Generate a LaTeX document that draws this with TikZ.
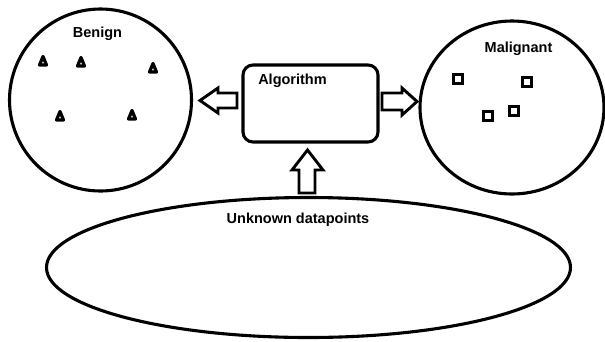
\documentclass[tikz,border=0pt]{standalone}
\usepackage{fontspec}
\setmainfont{Liberation Sans}
\usetikzlibrary{shapes.geometric}
\begin{document}
\begin{tikzpicture}[x=1pt,y=-1pt,
  outline/.style={draw=black,line width=3.1pt},
  label/.style={font=\fontsize{14.5}{17}\selectfont\bfseries,anchor=base,inner sep=0pt},
  blockarrow/.style={draw=black,fill=white,line width=2.9pt,line join=miter},
  tri/.style={draw=black,line width=3.2pt,line join=round},
  sq/.style={draw=black,line width=3.2pt,minimum size=9.5pt,inner sep=0pt}]
  \useasboundingbox (0,0) rectangle (605,341);

  % class regions and the input set
  \node[outline,circle,minimum size=182pt,inner sep=0pt] (benign) at (100.5,100) {};
  \node[outline,ellipse,minimum width=184pt,minimum height=173pt,inner sep=0pt] (malignant) at (512,107.5) {};
  \node[outline,ellipse,minimum width=524pt,minimum height=140pt,inner sep=0pt] (unknown) at (308.5,267.5) {};
  \node[outline,rectangle,rounded corners=10pt,minimum width=135pt,minimum height=77pt,inner sep=0pt] (algo) at (310.5,103.5) {};

  % titles
  \node[label] (tbenign) at (97.5,37) {Benign};
  \node[label] (tmalig) at (518.5,52) {Malignant};
  \node[label] (talgo) at (292.5,84) {Algorithm};
  \node[label] (tunknown) at (298,223) {Unknown datapoints};

  % block arrows between the boxes
  \draw[blockarrow] (237,93) -- (218,93) -- (218,88) -- (200,100.5) -- (218,113) -- (218,108) -- (237,108) -- cycle;
  \draw[blockarrow] (382,93) -- (402,93) -- (402,88) -- (417,101.5) -- (402,115) -- (402,110) -- (382,110) -- cycle;
  \draw[blockarrow] (299,193) -- (299,170) -- (292,170) -- (307.5,150) -- (323,170) -- (315,170) -- (315,193) -- cycle;

  % benign samples (triangles)
  \foreach \px/\py in {43/61, 81/62, 153/68, 60/116, 132/115}{
    \draw[tri] (\px,\py-4.5) -- (\px-3.5,\py+4) -- (\px+3.5,\py+4) -- cycle;
  }

  % malignant samples (squares)
  \foreach \px/\py [count=\i] in {458/79, 527/82, 488/116, 514/111}{
    \node[sq] (m\i) at (\px,\py) {};
  }
\end{tikzpicture}
\end{document}
